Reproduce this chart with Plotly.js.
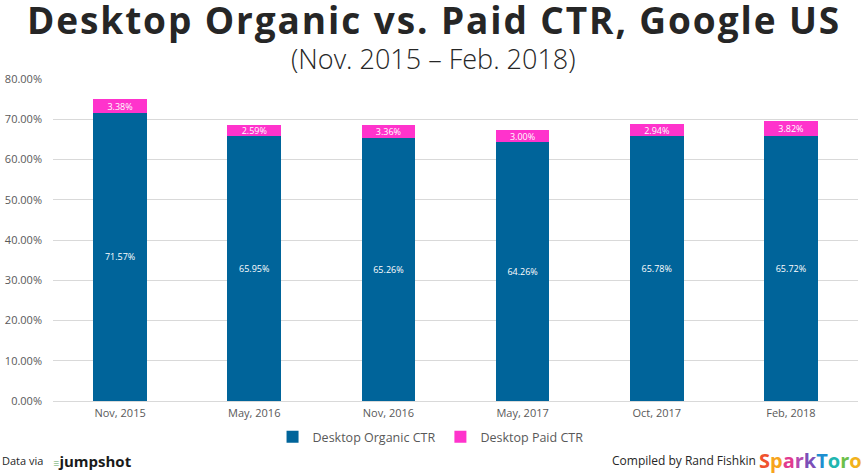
<!DOCTYPE html>
<html><head><meta charset="utf-8">
<script src="https://cdn.plot.ly/plotly-3.0.1.min.js"></script>
<style>html,body{margin:0;padding:0;background:#fff}#chart{width:867px;height:476px}
.ttl-main{letter-spacing:1.9px}</style>
</head><body><div id="chart"></div>
<script>
const categories = ["Nov, 2015","May, 2016","Nov, 2016","May, 2017","Oct, 2017","Feb, 2018"];
const organicCTR = [71.57, 65.95, 65.26, 64.26, 65.78, 65.72];
const paidCTR = [3.38, 2.59, 3.36, 3.00, 2.94, 3.82];
const yTicks = [0,10,20,30,40,50,60,70,80];

const fontFam = "'Open Sans', Lato, sans-serif";
const traces = [
  {type:'bar', name:'Desktop Organic CTR', x:categories, y:organicCTR,
   marker:{color:'#00649a'}, width:0.4,
   text:organicCTR.map(v=>v.toFixed(2)+'%'), textposition:'inside', insidetextanchor:'middle',
   constraintext:'none',
   textfont:{color:'#ffffff', size:9, family:fontFam}, hoverinfo:'skip'},
  {type:'bar', name:'Desktop Paid CTR', x:categories, y:paidCTR,
   marker:{color:'#ff33cc'}, width:0.4,
   text:paidCTR.map(v=>v.toFixed(2)+'%'), textposition:'inside', insidetextanchor:'middle',
   constraintext:'none',
   textfont:{color:'#ffffff', size:9, family:fontFam}, hoverinfo:'skip'}
];
const cx = (433.5-53)/805;
const layout = {
  width:867, height:476, barmode:'stack',
  paper_bgcolor:'#ffffff', plot_bgcolor:'#ffffff',
  margin:{l:53, r:9, t:79, b:75},
  font:{family:fontFam, color:'#595959'},
  showlegend:true,
  legend:{orientation:'h', x:0.469, xanchor:'center', y:-0.112, yanchor:'middle',
    font:{size:12.5, color:'#595959'}, traceorder:'normal', itemwidth:30},
  xaxis:{type:'category', showgrid:false, zeroline:false, showline:false,
    tickfont:{size:11, color:'#595959'}, ticks:'', ticklabelstandoff:4},
  yaxis:{range:[0,80], tickvals:yTicks, ticktext:yTicks.map(v=>v.toFixed(2)+'%'),
    showgrid:true, gridcolor:'#d9d9d9', gridwidth:1, zeroline:true, zerolinecolor:'#d9d9d9',
    tickfont:{size:11, color:'#595959'}, ticks:'', ticklabelstandoff:10},
  annotations:[
    {text:'<b>Desktop Organic vs. Paid CTR, Google US</b>', xref:'paper', yref:'paper',
     x:cx, y:1.185, xanchor:'center', yanchor:'middle', showarrow:false, borderpad:0,
     font:{size:37, color:'#262626', family:fontFam}},
    {text:'(Nov. 2015 – Feb. 2018)', xref:'paper', yref:'paper', x:cx, y:1.063,
     xanchor:'center', yanchor:'middle', showarrow:false, borderpad:0,
     font:{size:27, color:'#262626', family:fontFam, weight:300}},
    {text:'Data via', xref:'paper', yref:'paper', x:-0.066, y:-0.186, xanchor:'left', yanchor:'middle',
     showarrow:false, font:{size:11, color:'#262626'}},
    {text:'<span style="color:#8fbf8f;font-size:11px">≡</span><b>jumpshot</b>', xref:'paper', yref:'paper', x:-0.002, y:-0.186, xanchor:'left', yanchor:'middle',
     showarrow:false, font:{size:15, color:'#1a1a1a'}},
    {text:'Compiled by Rand Fishkin', xref:'paper', yref:'paper', x:0.876, y:-0.186, xanchor:'right', yanchor:'middle',
     showarrow:false, font:{size:12, color:'#262626'}},
    {text:'<b><span style="color:#f0522e">S</span><span style="color:#f7a41d">p</span><span style="color:#e23a8f">a</span><span style="color:#b34bb0">r</span><span style="color:#7b4fb8">k</span><span style="color:#1f8fd0">T</span><span style="color:#20b6b0">o</span><span style="color:#6cc04a">r</span><span style="color:#f2b21c">o</span></b>',
     xref:'paper', yref:'paper', x:1.008, y:-0.186, xanchor:'right', yanchor:'middle',
     showarrow:false, font:{size:20}}
  ]
};
Plotly.newPlot('chart', traces, layout, {staticPlot:true, displayModeBar:false}).then(function(gd){
  var t = gd.querySelectorAll('.annotation-text')[0];
  if (t) { t.classList.add('ttl-main'); }
});
</script></body></html>
